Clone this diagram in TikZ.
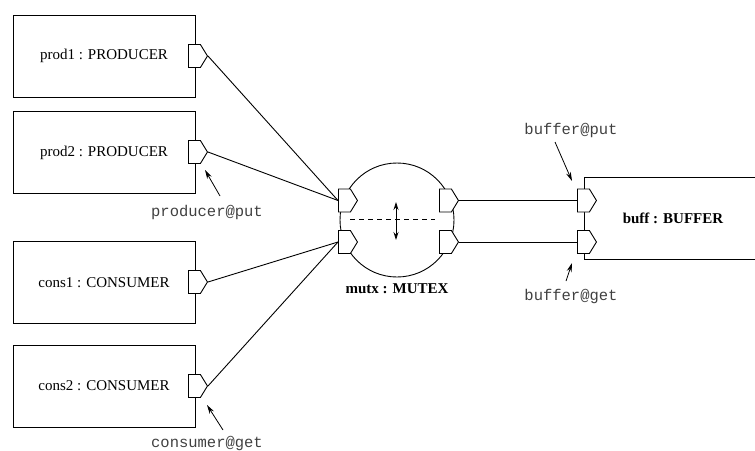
\documentclass[tikz,border=0pt]{standalone}
\usepackage{fontspec}
\setmainfont{Liberation Serif}
\setmonofont{Liberation Mono}
\usetikzlibrary{shapes.symbols,arrows.meta}

\begin{document}
\begin{tikzpicture}
[
    x=1pt, y=-1pt,
    comp/.style={draw, line width=1pt, rectangle, minimum width=182pt, minimum height=82pt,
        font=\fontsize{15}{17}\selectfont},
    port/.style={draw, line width=0.9pt, fill=white, signal, signal to=east,
        signal pointer angle=117, minimum width=19pt, minimum height=23pt,
        inner sep=0pt, anchor=west},
    tag/.style={font=\ttfamily\fontsize{15.5}{17}\selectfont, text=black!75, anchor=base},
    bold/.style={font=\bfseries\fontsize{15}{17}\selectfont, anchor=base},
    wire/.style={line width=0.9pt},
    pin/.style={line width=0.8pt, -{Stealth[length=9pt,width=5pt]}},
]
\useasboundingbox (0,0) rectangle (755,450);
\clip (0,0) rectangle (755,450);

% components
\node [comp] (prod1) at (104,56) {prod1 : PRODUCER};
\node [comp] (prod2) at (104,152.5) {prod2 : PRODUCER};
\node [comp] (cons1) at (104,282.5) {cons1 : CONSUMER};
\node [comp] (cons2) at (104,386) {cons2 : CONSUMER};
\node [comp] (buff) at (675,218.5) {};
\node [bold] (bufftxt) at (673,223) {buff : BUFFER};

% the mutex
\node [draw, wire, circle, minimum size=114pt, inner sep=0pt] (mutx) at (397,220) {};
\node [bold] (mutxtxt) at (397,293) {mutx : MUTEX};
\draw [wire, dashed, dash pattern=on 5pt off 4pt] (350,219) -- (435,219);
\draw [line width=0.8pt, {Stealth[length=8pt,width=5pt]}-{Stealth[length=8pt,width=5pt]}]
    (396,202) -- (396,240);

% ports
\node [port] (p1) at (188,56) {};
\node [port] (p2) at (188,152) {};
\node [port] (c1) at (188,282) {};
\node [port] (c2) at (188,386) {};
\node [port] (min1) at (338,200.5) {};
\node [port] (min2) at (338,242) {};
\node [port] (mout1) at (439,200.5) {};
\node [port] (mout2) at (439,242) {};
\node [port] (bput) at (577,200.5) {};
\node [port] (bget) at (577,242) {};

% bindings
\draw [wire] (p1.east) -- (min1.west);
\draw [wire] (p2.east) -- (min1.west);
\draw [wire] (c1.east) -- (min2.west);
\draw [wire] (c2.east) -- (min2.west);
\draw [wire] (mout1.east) -- (bput.west);
\draw [wire] (mout2.east) -- (bget.west);

% port names
\node [tag] (prodput) at (207,216) {producer@put};
\node [tag] (consget) at (207,447) {consumer@get};
\node [tag] (buffput) at (571,134) {buffer@put};
\node [tag] (buffget) at (571,300) {buffer@get};
\coordinate (a1) at (220,196);
\coordinate (a2) at (223,430);
\coordinate (a3) at (555,142);
\coordinate (a4) at (566,281);
\coordinate (t1) at (205,170);
\coordinate (t2) at (207,405);
\coordinate (t3) at (572,181);
\coordinate (t4) at (572,263);
\draw [pin] (a1) -- (t1);
\draw [pin] (a2) -- (t2);
\draw [pin] (a3) -- (t3);
\draw [pin] (a4) -- (t4);
\end{tikzpicture}
\end{document}
